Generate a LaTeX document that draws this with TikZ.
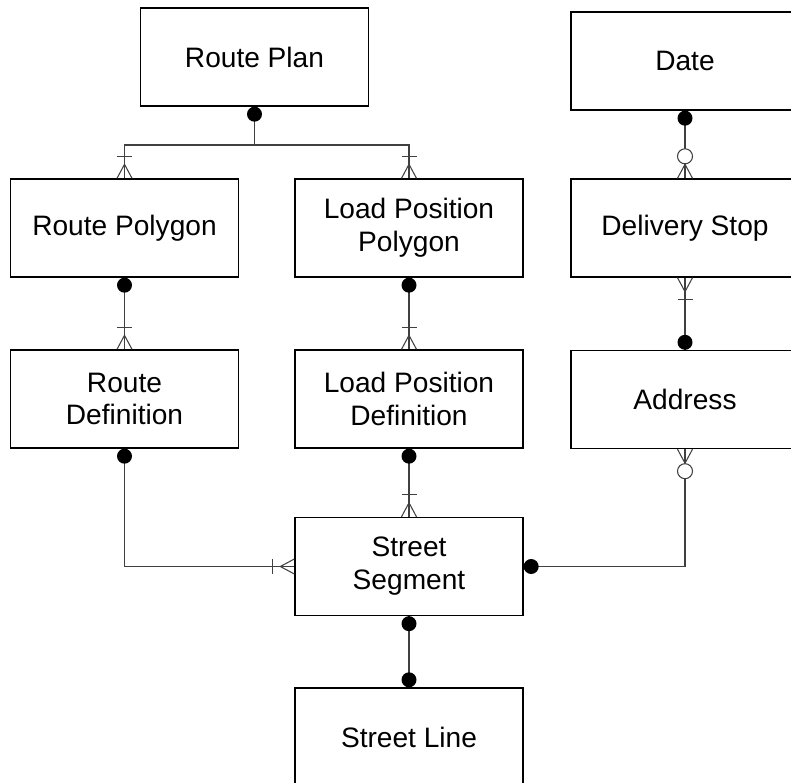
\documentclass[tikz,border=0pt]{standalone}
\usepackage{fontspec}
\setmainfont{Liberation Sans}
\begin{document}
\begin{tikzpicture}[x=0.02cm,y=-0.02cm,
    entity/.style={draw=black,line width=0.8pt,minimum width=4.56cm,minimum height=1.96cm,
      align=center,font=\fontsize{16}{18.7}\selectfont,inner sep=0pt},
    link/.style={draw=black!75,line width=0.6pt},
    pics/onedot/.style={code={\fill[black] (7.5,0) circle (7.5);}},
    pics/manybar/.style={code={
        \draw[link] (0,-7.5) -- (14,0) -- (0,7.5);
        \draw[link] (22,-7.5) -- (22,7.5);}},
    pics/manyring/.style={code={
        \draw[link] (0,-7.5) -- (14,0) -- (0,7.5);
        \draw[link,fill=white] (22,0) circle (7.5);}}]
        \useasboundingbox (0,0) rectangle (791,783);
        \begin{scope}[every node/.style={entity}]
          \node (RP) at (254.5,57) {Route Plan};
          \node (Date) at (685,61) {Date};
          \node (RPoly) at (124.5,228) {Route Polygon};
          \node (LPP) at (409,228) {Load Position\\Polygon};
          \node (DS) at (685,228) {Delivery Stop};
          \node (RD) at (124.5,399) {Route\\Definition};
          \node (LPD) at (409,399) {Load Position\\Definition};
          \node (Addr) at (685,399.5) {Address};
          \node (SS) at (409,566.5) {Street\\Segment};
          \node (SL) at (409,737) {Street Line};
        \end{scope}
        % connectors
        \coordinate (fork) at (254.5,145);
        \begin{scope}[every path/.style={link}]
          \draw (RP.south) -- (fork) -| (RPoly.north);
          \draw (fork) -| (LPP.north);
          \draw (Date.south) -- (DS.north);
          \draw (RPoly.south) -- (RD.north);
          \draw (LPP.south) -- (LPD.north);
          \draw (DS.south) -- (Addr.north);
          \draw (RD.south) |- (SS.west);
          \draw (LPD.south) -- (SS.north);
          \draw (Addr.south) |- (SS.east);
          \draw (SS.south) -- (SL.north);
        \end{scope}
        % ends
        \pic[rotate=-90] at (RP.south) {onedot};
        \pic[rotate=90] at (RPoly.north) {manybar};
        \pic[rotate=90] at (LPP.north) {manybar};
        \pic[rotate=-90] at (Date.south) {onedot};
        \pic[rotate=90] at (DS.north) {manyring};
        \pic[rotate=-90] at (RPoly.south) {onedot};
        \pic[rotate=90] at (RD.north) {manybar};
        \pic[rotate=-90] at (LPP.south) {onedot};
        \pic[rotate=90] at (LPD.north) {manybar};
        \pic[rotate=-90] at (DS.south) {manybar};
        \pic[rotate=90] at (Addr.north) {onedot};
        \pic[rotate=-90] at (RD.south) {onedot};
        \pic[rotate=180] at (SS.west) {manybar};
        \pic[rotate=-90] at (LPD.south) {onedot};
        \pic[rotate=90] at (SS.north) {manybar};
        \pic[rotate=-90] at (Addr.south) {manyring};
        \pic at (SS.east) {onedot};
        \pic[rotate=-90] at (SS.south) {onedot};
        \pic[rotate=90] at (SL.north) {onedot};
\end{tikzpicture}
\end{document}
